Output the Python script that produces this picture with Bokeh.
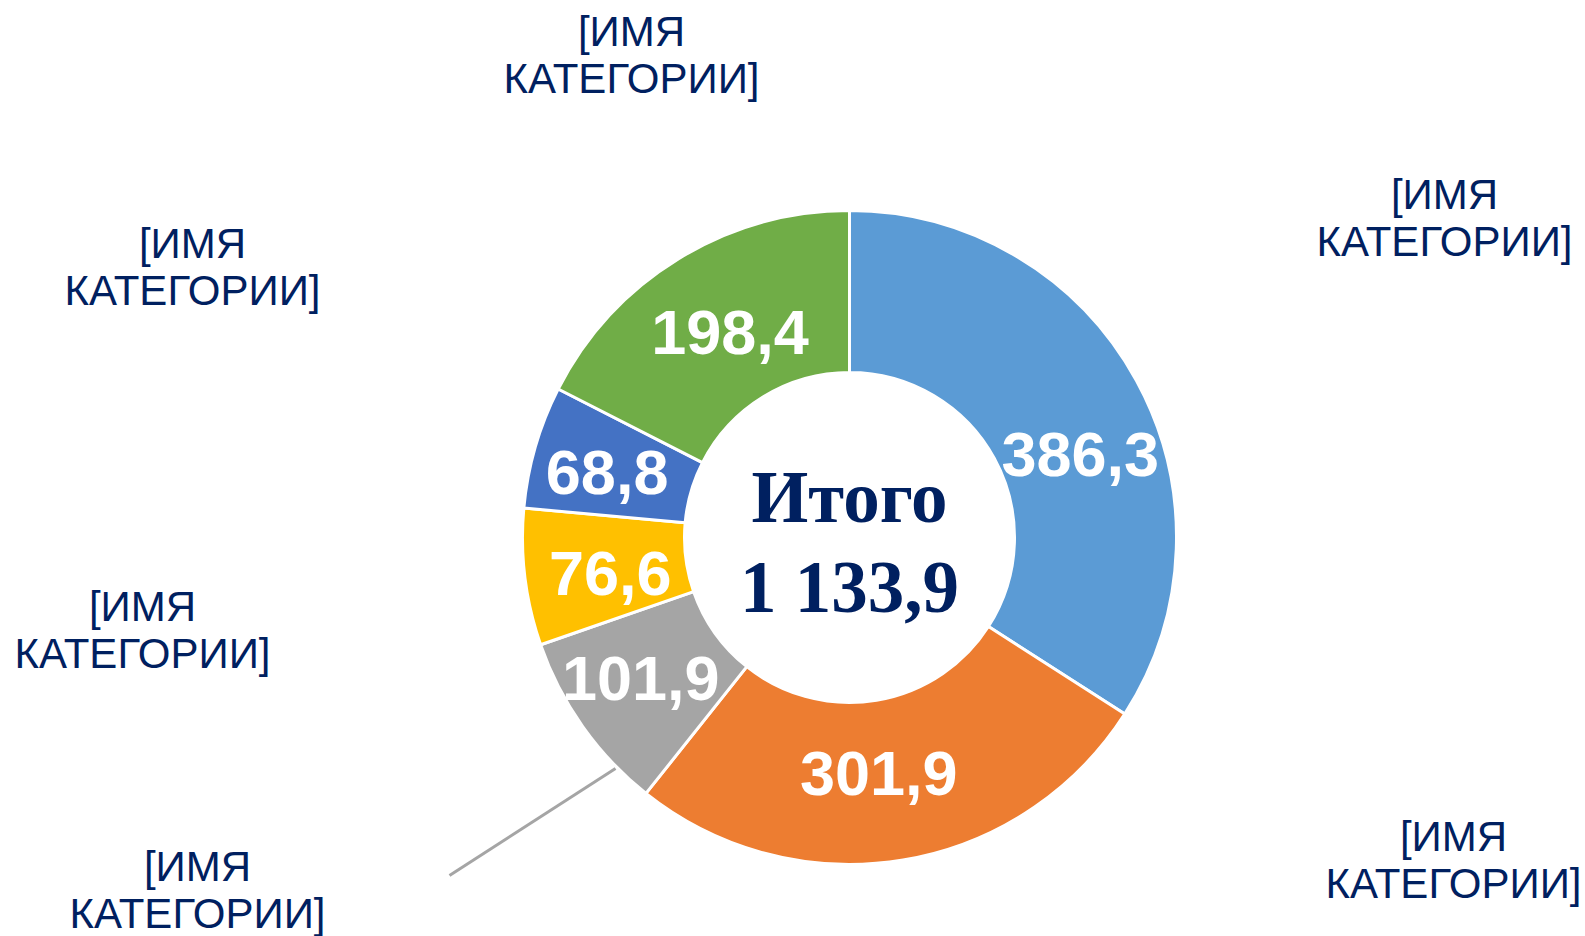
import math
from bokeh.plotting import figure
from bokeh.models import ColumnDataSource, Range1d
from bokeh.core.properties import value
from bokeh.embed import file_html
from bokeh.resources import INLINE

# ---------------- data ----------------
categories = ["[ИМЯ КАТЕГОРИИ]"] * 6
values = [386.3, 301.9, 101.9, 76.6, 68.8, 198.4]
colors = ["#5B9BD5", "#ED7D31", "#A5A5A5", "#FFC000", "#4472C4", "#70AD47"]
center_title = "Итого"

# ---------------- annotation placement (px, relative to ring centre) ----------------
value_label_nudge = [(15, -36), (-11, 5), (-8, 0), (5, -7), (-6, -5), (9, -6)]
category_label_pos = [(-218, 490), (595, 327), (604, -315), (-652, -345), (-707, -85), (-657, 278)]
category_label_pos = category_label_pos[1:] + category_label_pos[:1]
leader_x = [-234, -400]
leader_y = [-231, -338]

OUTER_R = 327
INNER_R = 165
NAVY = "#002060"
BASE_FIX = 0.38  # baseline correction of the text layout, in em

def fmt(v):
    return f"{v:,.1f}".replace(",", " ").replace(".", ",")

total = sum(values)

# wedges, clockwise from 12 o'clock
starts, ends, mids = [], [], []
cum = 0.0
for v in values:
    c0 = cum / total
    cum += v
    c1 = cum / total
    starts.append(math.pi / 2 - 2 * math.pi * c1)
    ends.append(math.pi / 2 - 2 * math.pi * c0)
    mids.append((c0 + c1) / 2)

ring = ColumnDataSource(dict(x=[0] * len(values), y=[0] * len(values),
                             start=starts, end=ends, color=colors))

VAL_FS = 63
mid_r = (OUTER_R + INNER_R) / 2
vx, vy, vt = [], [], []
for m, v, (dx, dy) in zip(mids, values, value_label_nudge):
    a = 2 * math.pi * m
    vx.append(mid_r * math.sin(a) + dx)
    vy.append(mid_r * math.cos(a) + dy - 0.358 * VAL_FS + BASE_FIX * VAL_FS)
    vt.append(fmt(v))
vals_src = ColumnDataSource(dict(x=vx, y=vy, text=vt))

CAT_FS = 42
LINE_GAP = 47
cx, cy, ct = [], [], []
for name, (x, y) in zip(categories, category_label_pos):
    first, second = name.split(" ", 1)
    cx += [x, x]
    cy += [y + BASE_FIX * CAT_FS, y - LINE_GAP + BASE_FIX * CAT_FS]
    ct += [first, second]
cat_src = ColumnDataSource(dict(x=cx, y=cy, text=ct))

CEN_FS = 73
W, H = 1585, 936
CX, CY = 849, 537
p = figure(width=W, height=H, output_backend="svg", toolbar_location=None,
           x_range=Range1d(-CX, W - CX), y_range=Range1d(-(H - CY), CY),
           min_border=0, outline_line_color=None, tools="")
p.axis.visible = False
p.grid.visible = False
p.background_fill_color = "white"
p.border_fill_color = "white"

p.annular_wedge(x="x", y="y", inner_radius=INNER_R, outer_radius=OUTER_R,
                start_angle="start", end_angle="end", direction="anticlock",
                fill_color="color", line_color="white", line_width=3, source=ring)

p.line(leader_x, leader_y, line_color="#A5A5A5", line_width=3)

p.text(x="x", y="y", text="text", source=vals_src,
       text_font=value("Liberation Sans"), text_font_size=f"{VAL_FS}px",
       text_font_style="bold", text_color="white",
       text_align="center", text_baseline="alphabetic")

p.text(x="x", y="y", text="text", source=cat_src,
       text_font=value("Liberation Sans"), text_font_size=f"{CAT_FS}px",
       text_color=NAVY, text_align="center", text_baseline="alphabetic")

p.text(x=[0, 0], y=[12 + BASE_FIX * CEN_FS, -78 + BASE_FIX * CEN_FS],
       text=[center_title, fmt(total)],
       text_font=value("Liberation Serif"), text_font_size=f"{CEN_FS}px",
       text_font_style="bold", text_color=NAVY,
       text_align="center", text_baseline="alphabetic")

open("out.html", "w").write(file_html(p, INLINE))
